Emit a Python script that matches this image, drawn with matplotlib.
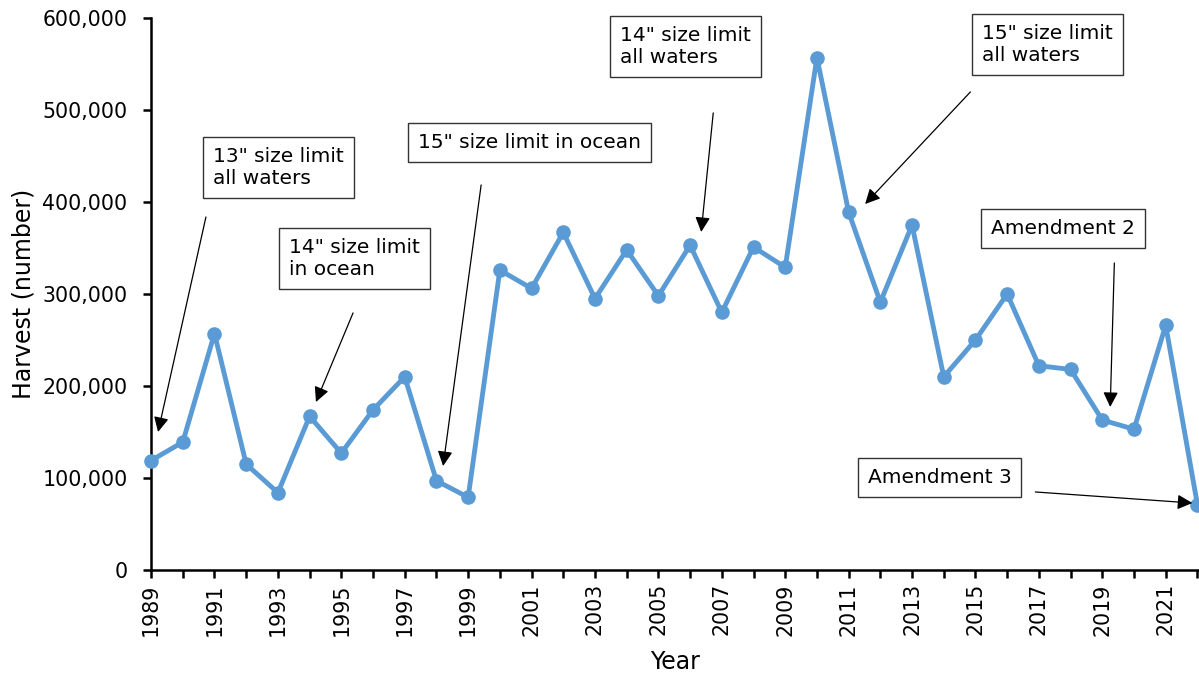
import matplotlib.pyplot as plt
from matplotlib.ticker import FuncFormatter

# harvest by year
years = list(range(1989, 2023))
harvest = [119000, 139000, 257000, 115000, 84000, 167000, 127000, 174000, 210000, 97000,
           79000, 326000, 306000, 367000, 295000, 348000, 298000, 353000, 280000, 351000,
           329000, 557000, 389000, 291000, 375000, 210000, 250000, 300000, 222000, 218000,
           163000, 153000, 266000, 71000]

# regulation notes
note_text = ['13" size limit\nall waters', '14" size limit\nin ocean', '15" size limit in ocean',
             '14" size limit\nall waters', '15" size limit\nall waters', 'Amendment 2', 'Amendment 3']

# where the notes go: text top-left, arrow tail, arrow tip (data coords)
note_pos = [
    ((1990.96, 459800), (1990.73, 383700), (1989.22, 150000)),
    ((1993.35, 360900), (1995.37, 279400), (1994.20, 182600)),
    ((1997.42, 475000), (1999.41, 418500), (1998.21, 113000)),
    ((2003.80, 591300), (2006.73, 496800), (2006.35, 367400)),
    ((2015.20, 593500), (2014.84, 519600), (2011.52, 397800)),
    ((2015.50, 381600), (2019.38, 333700), (2019.25, 177200)),
    ((2011.60, 111300), (2016.89, 84800), (2021.84, 72800)),
]

plt.rcParams['font.family'] = ['DejaVu Sans']
fig = plt.figure(figsize=(11.99, 6.81), dpi=100)
ax = fig.add_axes([0.126, 0.163, 0.874, 0.8106])

ax.plot(years, harvest, color='#5B9BD5', lw=3.5, marker='o', ms=9.5, clip_on=False, zorder=3)

ax.set_xlim(1989, 2022.05)
ax.set_ylim(0, 600000)
ax.set_xticks(years)
ax.set_xticklabels([str(y) if (y - 1989) % 2 == 0 else '' for y in years], rotation=90)
ax.set_yticks(range(0, 600001, 100000))
ax.yaxis.set_major_formatter(FuncFormatter(lambda v, p: f'{int(v):,}'))
ax.tick_params(axis='both', direction='out', length=6, width=1.8, labelsize=14.8, colors='black')
ax.tick_params(axis='y', pad=11)
for s in ['top', 'right']:
    ax.spines[s].set_visible(False)
for s in ['left', 'bottom']:
    ax.spines[s].set_linewidth(1.8)

ax.set_xlabel('Year', fontsize=17, labelpad=10)
ax.set_ylabel('Harvest (number)', fontsize=17, labelpad=5)

for txt, (box, tail, tip) in zip(note_text, note_pos):
    ax.text(box[0], box[1], txt, fontsize=14.5, ha='left', va='top', linespacing=1.2,
            bbox=dict(boxstyle='square,pad=0.5', fc='white', ec='#333333', lw=1))
    ax.annotate('', xy=tip, xytext=tail,
                arrowprops=dict(arrowstyle='-|>,head_length=0.9,head_width=0.45', color='black',
                                lw=0.9, shrinkA=0, shrinkB=0),
                annotation_clip=False)

fig.savefig('out.png', dpi=100)
